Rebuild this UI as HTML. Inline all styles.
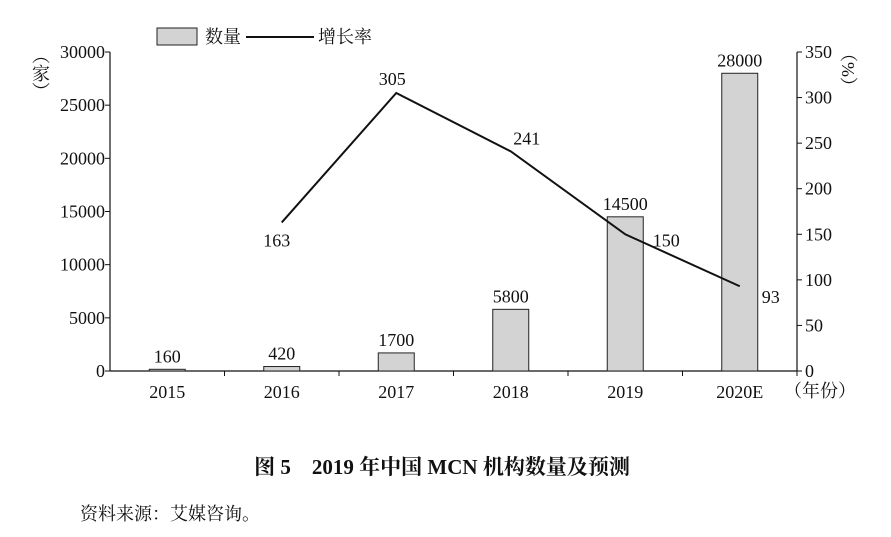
<!DOCTYPE html>
<html><head><meta charset="utf-8">
<style>
body{margin:0;background:#fff;width:891px;height:532px;overflow:hidden}
text{font-family:"Liberation Serif","Noto Serif CJK SC",serif;fill:#111}
.cjk{font-family:"Liberation Serif","Noto Serif CJK SC","Noto Sans CJK SC",serif}
</style></head><body>
<svg id="chart" width="891" height="532" xmlns="http://www.w3.org/2000/svg">
<g>
<rect x="157" y="28" width="40" height="17" fill="#d3d3d3" stroke="#222" stroke-width="1"/>
<text x="205" y="43" font-size="18" class="cjk">数量</text>
<line x1="246" y1="37" x2="314" y2="37" stroke="#111" stroke-width="2"/>
<text x="318" y="43" font-size="18" class="cjk">增长率</text>
</g>
<g id="axes"></g>
<g id="marks"></g>
<text x="40" y="46" font-size="18" class="cjk" writing-mode="tb">（家）</text>
<text x="848" y="44" font-size="18" class="cjk" writing-mode="tb">（%）</text>
<text x="784" y="397" font-size="18" class="cjk">（年份）</text>
<text x="442" y="474" font-size="21" font-weight="bold" text-anchor="middle" class="cjk">图 5　2019 年中国 MCN 机构数量及预测</text>
<text x="80" y="520" font-size="18" class="cjk">资料来源：艾媒咨询。</text>
</svg>
<script>
const categories=["2015","2016","2017","2018","2019","2020E"];
const counts=[160,420,1700,5800,14500,28000];
const growth=[null,163,305,241,150,93];
const leftTicks=[0,5000,10000,15000,20000,25000,30000];
const rightTicks=[0,50,100,150,200,250,300,350];
const X0=110,X1=797,Y0=371,Y1=52;
const bw=(X1-X0)/categories.length;
const xc=i=>X0+bw*(i+0.5);
const yl=v=>Y0-(v/30000)*(Y0-Y1);
const yr=v=>Y0-(v/350)*(Y0-Y1);
const NS="http://www.w3.org/2000/svg";
function mk(tag,attrs,parent,txt){const e=document.createElementNS(NS,tag);for(const k in attrs)e.setAttribute(k,attrs[k]);if(txt!==undefined)e.textContent=txt;parent.appendChild(e);return e;}
const ax=document.getElementById('axes'),mg=document.getElementById('marks');
let e;
e=mk('line',{x1:X0,y1:Y1,x2:X0,y2:Y0,stroke:'#111','stroke-width':1.2},ax);


e=mk('line',{x1:X1,y1:Y1,x2:X1,y2:Y0,stroke:'#111','stroke-width':1.2},ax);


e=mk('line',{x1:X0,y1:Y0,x2:X1,y2:Y0,stroke:'#111','stroke-width':1.2},ax);


leftTicks.forEach(v=>{
 mk('line',{x1:X0-5,y1:yl(v),x2:X0,y2:yl(v),stroke:'#111'},ax);
 e=mk('text',{x:X0-5,y:yl(v)+6,'font-size':18,'text-anchor':'end'},ax,v);
 
 
});
rightTicks.forEach(v=>{
 mk('line',{x1:X1,y1:yr(v),x2:X1+5,y2:yr(v),stroke:'#111'},ax);
 e=mk('text',{x:X1+8,y:yr(v)+6,'font-size':18},ax,v);
 
 
});
categories.forEach((c,i)=>{
 mk('line',{x1:X0+bw*(i+1),y1:Y0,x2:X0+bw*(i+1),y2:Y0+5,stroke:'#111'},ax);
 e=mk('text',{x:xc(i),y:Y0+27,'font-size':18,'text-anchor':'middle'},ax,c);
 
 
});
counts.forEach((v,i)=>{
 e=mk('rect',{x:xc(i)-18,y:yl(v),width:36,height:Y0-yl(v),fill:'#d3d3d3',stroke:'#222','stroke-width':1},mg);
 
 
 e=mk('text',{x:xc(i),y:yl(v)-7,'font-size':18,'text-anchor':'middle'},mg,v);
 
 
});
const pts=[];growth.forEach((v,i)=>{if(v!==null)pts.push([xc(i),yr(v),v,i]);});
e=mk('polyline',{points:pts.map(p=>p[0]+','+p[1]).join(' '),fill:'none',stroke:'#111','stroke-width':2},mg);


const off=[[-5,24],[-4,-8],[16,-7],[41,12],[31,17]];
pts.forEach((p,k)=>{
 const o=off[k]||[0,-8];
 e=mk('text',{x:p[0]+o[0],y:p[1]+o[1],'font-size':18,'text-anchor':'middle'},mg,p[2]);
 
 
});
</script>
</body></html>
